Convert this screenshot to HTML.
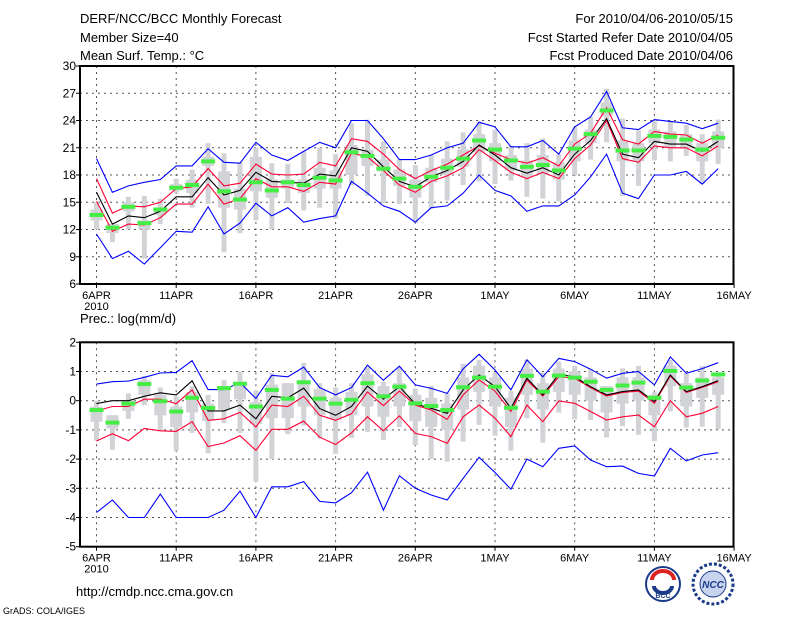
<!DOCTYPE html>
<html><head><meta charset="utf-8"><style>
html,body{margin:0;padding:0;background:#fff;}
svg{display:block;font-family:"Liberation Sans",sans-serif;}
</style></head><body>
<svg id="chart" width="800" height="618" viewBox="0 0 800 618" xmlns="http://www.w3.org/2000/svg">
<g font-size="13" fill="#000">
<text x="80" y="23">DERF/NCC/BCC Monthly Forecast</text>
<text x="80" y="42">Member Size=40</text>
<text x="80" y="60">Mean Surf. Temp.: °C</text>
</g>
<g font-size="13" fill="#000" text-anchor="end">
<text x="733" y="23">For 2010/04/06-2010/05/15</text>
<text x="733" y="42">Fcst Started Refer Date 2010/04/05</text>
<text x="733" y="60">Fcst Produced Date 2010/04/06</text>
</g>
<text x="80" y="323" font-size="13">Prec.: log(mm/d)</text>
<text x="76" y="596" font-size="13">http://cmdp.ncc.cma.gov.cn</text>
<text x="3" y="614" font-size="9">GrADS: COLA/IGES</text>
<g>
<circle cx="663" cy="584" r="17" fill="#fff" stroke="#1a3a8a" stroke-width="2"/>
<path d="M652 580 a11 9 0 0 1 22 0" fill="none" stroke="#d22" stroke-width="4"/>
<path d="M654 586 a9 7 0 0 0 18 0" fill="none" stroke="#1a3a8a" stroke-width="4"/>
<text x="663" y="598" font-size="7" text-anchor="middle" fill="#1a3a8a" font-weight="bold">BCC</text>
</g>
<g>
<circle cx="713" cy="584" r="20" fill="#fff" stroke="#1a3a8a" stroke-width="3" stroke-dasharray="3 2"/>
<circle cx="713" cy="584" r="13" fill="#c8d4ee" stroke="#1a3a8a" stroke-width="1"/>
<text x="713" y="588" font-size="10" text-anchor="middle" fill="#1a3a8a" font-weight="bold" font-style="italic">NCC</text>
</g>
<g id="top"></g>
<g id="bot"></g>
</svg>
<script>
const dayLabels = ["6APR","11APR","16APR","21APR","26APR","1MAY","6MAY","11MAY","16MAY"];
const dayLabelIdx = [0,5,10,15,20,25,30,35,40];
// Temperature panel data (40 days)
const tMax = [19.8,16.1,16.8,17.2,17.5,19.0,19.0,20.9,19.4,19.3,21.6,20.2,19.6,20.6,21.6,21.0,24.0,24.0,22.0,19.7,19.7,20.2,21.0,21.5,23.8,23.3,21.1,21.1,21.8,20.3,23.3,24.4,27.2,23.2,23.0,24.1,23.9,23.7,23.1,23.7];
const tMin = [11.5,8.8,9.6,8.2,10.0,11.8,11.7,14.5,11.5,12.7,14.9,13.5,14.4,12.8,13.2,13.5,17.3,16.0,14.6,14.0,12.8,14.4,14.6,16.0,18.0,16.3,15.7,14.0,14.6,14.6,15.8,17.8,20.3,16.0,15.4,18.0,18.0,18.4,17.0,18.7];
const tUp = [17.6,13.8,14.6,14.5,15.0,16.5,16.7,18.7,16.8,17.1,19.2,18.1,18.0,18.1,19.4,19.0,22.0,21.7,20.3,18.6,17.6,18.5,19.2,20.2,21.2,20.4,19.7,19.3,19.9,19.0,21.4,22.6,25.4,21.9,21.4,22.8,22.5,22.4,21.5,22.4];
const tMean = [16.1,12.6,13.5,13.3,14.0,15.6,15.6,17.7,15.8,16.3,18.3,17.3,17.2,17.1,18.1,17.9,21.0,20.6,18.9,17.3,16.7,17.8,18.5,19.5,21.3,20.2,18.8,18.2,18.8,18.0,20.3,21.8,24.2,20.3,19.9,21.7,21.4,21.4,20.6,21.7];
const tLow = [15.1,11.8,12.6,12.5,13.3,14.8,14.8,17.0,14.8,15.4,17.6,16.7,16.7,16.2,17.2,17.0,20.4,20.0,18.5,16.9,16.1,17.3,17.9,18.8,20.8,19.6,18.3,17.6,18.3,17.6,19.8,21.3,24.0,19.8,19.4,21.2,21.0,21.0,20.1,21.2];
const tObs = [13.6,12.2,14.5,12.7,14.2,16.6,16.9,19.5,16.2,15.3,17.2,16.3,17.2,16.9,17.7,17.4,20.5,20.1,18.7,17.6,16.7,17.8,18.8,19.8,21.8,20.8,19.6,18.9,19.1,18.5,20.9,22.5,25.1,20.7,20.7,22.3,22.2,21.9,20.8,22.1];
const tBarLo = [12.0,10.6,12.0,8.8,12.6,16.0,14.4,14.8,9.5,11.6,13.0,12.0,14.9,14.1,14.4,13.2,16.9,15.7,14.9,14.8,12.7,14.3,15.2,16.9,17.3,17.0,17.4,15.6,15.4,15.1,18.0,19.7,21.6,15.7,16.8,19.6,19.5,20.1,17.0,19.2];
const tBarHi = [15.0,12.6,15.6,15.7,15.4,17.6,18.6,21.5,20.4,19.4,21.0,19.3,19.2,20.6,21.0,20.3,23.7,24.1,21.7,19.7,19.1,20.2,21.7,22.7,23.9,23.0,21.2,21.5,22.0,20.3,23.3,24.4,27.5,24.2,22.9,24.0,23.9,23.5,22.5,24.1];
const tBoxLo = [13.0,11.6,14.0,12.0,13.6,16.3,16.0,19.0,14.4,14.2,16.2,15.5,16.5,16.0,16.5,16.5,18.0,19.0,18.4,16.8,15.5,17.2,18.0,18.9,20.5,19.5,18.5,17.8,18.0,17.5,19.5,21.5,24.5,19.5,19.5,21.5,21.0,21.0,19.5,21.0];
const tBoxHi = [14.2,12.6,15.0,13.0,14.4,17.0,17.5,20.0,18.4,16.5,20.0,17.5,17.5,17.5,18.8,18.5,21.3,20.8,19.7,18.6,17.5,18.8,19.8,20.8,22.5,21.5,20.2,19.6,20.2,19.4,21.8,23.0,26.0,21.8,21.5,23.0,22.8,22.5,21.5,22.8];
const tTicks = [6,9,12,15,18,21,24,27,30];
// Precipitation panel data
const pMax = [0.57,0.65,0.67,0.8,0.95,0.97,1.37,0.38,0.38,0.62,0.08,0.87,0.82,1.15,0.45,0.2,0.45,1.22,0.7,1.18,0.54,0.42,0.25,1.09,1.59,1.05,0.37,1.4,0.82,1.45,1.34,1.08,0.77,0.94,1.0,0.54,1.5,0.94,1.1,1.3];
const pMin = [-3.83,-3.4,-4.0,-4.0,-3.2,-4.0,-4.0,-4.0,-3.75,-3.1,-4.0,-2.95,-2.95,-2.77,-3.45,-3.5,-3.15,-2.45,-3.75,-2.57,-3.0,-3.23,-3.4,-2.66,-1.94,-2.46,-3.03,-2.0,-2.26,-1.63,-1.55,-2.03,-2.26,-2.24,-2.49,-2.58,-1.63,-2.06,-1.86,-1.78];
const pUp = [-0.35,-0.2,-0.2,0.05,0.05,-0.1,0.37,-0.67,-0.62,-0.4,-0.9,-0.15,-0.2,0.15,-0.5,-0.67,-0.45,0.3,-0.17,0.33,-0.15,-0.32,-0.64,0.2,0.71,0.33,-0.37,0.71,0.16,0.82,0.77,0.45,0.16,0.28,0.33,-0.09,0.85,0.28,0.46,0.65];
const pMean = [-0.1,0.0,0.0,0.15,0.27,0.2,0.68,-0.35,-0.35,-0.15,-0.62,0.15,0.1,0.43,-0.27,-0.5,-0.2,0.5,0.05,0.48,-0.11,-0.26,-0.43,0.37,0.88,0.48,-0.26,0.77,0.2,0.9,0.82,0.48,0.2,0.31,0.37,-0.03,0.88,0.31,0.48,0.69];
const pLow = [-1.38,-1.13,-1.37,-0.95,-1.03,-1.05,-0.72,-1.57,-1.45,-1.2,-1.7,-0.98,-0.98,-0.7,-1.25,-1.5,-1.1,-0.55,-1.03,-0.52,-1.12,-1.23,-1.46,-0.55,-0.15,-0.6,-1.23,-0.15,-0.72,-0.01,-0.09,-0.37,-0.66,-0.55,-0.49,-0.89,0.0,-0.55,-0.43,-0.2];
const pObs = [-0.32,-0.75,-0.1,0.57,-0.02,-0.37,0.1,-0.25,0.43,0.58,-0.2,0.37,0.07,0.63,0.07,-0.1,0.03,0.6,0.15,0.48,-0.09,-0.18,-0.32,0.46,0.79,0.48,-0.24,0.85,0.31,0.86,0.79,0.65,0.37,0.52,0.62,0.1,1.02,0.45,0.69,0.9];
const pBarLo = [-1.37,-1.68,-0.62,-0.15,-1.05,-1.72,-1.1,-1.8,-0.77,-1.1,-2.77,-2.0,-1.15,-0.85,-1.3,-1.82,-1.27,-1.07,-1.35,-0.9,-1.52,-2.0,-2.09,-1.4,-0.83,-1.2,-1.71,-0.6,-1.44,-0.41,-0.64,-0.66,-1.26,-0.87,-1.17,-1.38,-0.37,-0.92,-0.89,-0.98];
const pBarHi = [0.0,-0.5,0.25,0.85,0.45,0.15,0.5,0.2,0.7,1.0,0.35,0.95,0.6,1.3,0.6,0.45,0.6,1.15,0.65,1.15,0.42,0.5,0.25,1.26,1.4,0.96,0.33,1.4,0.96,1.34,1.19,1.08,0.48,1.11,1.19,0.31,1.4,0.94,1.19,0.96];
const pBoxLo = [-0.72,-0.95,-0.35,0.2,-0.5,-0.9,-0.4,-0.7,-0.3,0.05,-0.8,-0.6,-0.6,-0.2,-0.5,-0.65,-0.5,-0.2,-0.55,-0.2,-0.7,-0.9,-1.0,-0.3,0.3,-0.2,-0.9,0.2,-0.3,0.3,0.2,0.0,-0.4,-0.1,0.0,-0.5,0.5,-0.2,0.1,0.2];
const pBoxHi = [-0.2,-0.5,0.0,0.7,0.2,-0.2,0.3,-0.1,0.5,0.65,-0.05,0.55,0.6,0.7,0.4,0.1,0.3,0.9,0.5,0.6,0.2,0.1,-0.1,0.8,1.2,0.8,0.1,1.1,0.6,1.1,1.0,0.8,0.5,0.8,0.8,0.2,1.2,0.6,0.8,0.8];
const pTicks = [-5,-4,-3,-2,-1,0,1,2];

const NS="http://www.w3.org/2000/svg";
const X0=96.5, DX=15.94, LEFT=80, RIGHT=733.5;
function xDay(d){return X0+DX*d;}
function mk(tag,attrs,parent){const e=document.createElementNS(NS,tag);for(const k in attrs)e.setAttribute(k,attrs[k]);parent.appendChild(e);return e;}

function panel(g,top,bottom,vmin,vmax,ticks,S){
  const yv=v=>bottom-(v-vmin)/(vmax-vmin)*(bottom-top);
  // grid
  for(const t of ticks){ if(t===vmin||t===vmax)continue;
    const l=mk('line',{x1:LEFT,x2:RIGHT,y1:yv(t),y2:yv(t),stroke:'#555','stroke-width':1,'stroke-dasharray':'2 4'},g);
    
    
  }
  dayLabelIdx.forEach(d=>{ if(d===40)return;
    const l=mk('line',{x1:xDay(d),x2:xDay(d),y1:top,y2:bottom,stroke:'#555','stroke-width':1,'stroke-dasharray':'2 4'},g);
    
    
  });
  // bars
  for(let d=0;d<40;d++){
    const x=xDay(d);
    const b=mk('rect',{x:x-2.5,y:yv(S.barHi[d]),width:5,height:yv(S.barLo[d])-yv(S.barHi[d]),fill:'#d2d3d7'},g);
    
    
    const bx=mk('rect',{x:x-6,y:yv(S.boxHi[d]),width:12,height:Math.max(1,yv(S.boxLo[d])-yv(S.boxHi[d])),fill:'#d2d3d7'},g);
    
    
  }
  const line=(arr,col,name)=>{
    const p=mk('polyline',{points:arr.map((v,d)=>xDay(d).toFixed(1)+','+yv(v).toFixed(1)).join(' '),fill:'none',stroke:col,'stroke-width':1.1},g);
    
    
  };
  line(S.max,'#0000ff','max-line');line(S.min,'#0000ff','min-line');
  line(S.up,'#ff0033','upper-line');line(S.low,'#ff0033','lower-line');
  line(S.mean,'#000','ensemble-mean-line');
  for(let d=0;d<40;d++){
    const r=mk('rect',{x:xDay(d)-7,y:yv(S.obs[d])-2,width:14,height:4,fill:'#44ee44'},g);
    
    
  }
  // frame
  const f=mk('rect',{x:LEFT,y:top,width:RIGHT-LEFT,height:bottom-top,fill:'none',stroke:'#000','stroke-width':2},g);
  
  
  for(const t of ticks){
    const tk=mk('line',{x1:LEFT-4,x2:LEFT,y1:yv(t),y2:yv(t),stroke:'#000'},g);
    
    
    const tx=mk('text',{x:LEFT-4,y:yv(t)+4,'font-size':12,'text-anchor':'end'},g);
    tx.textContent=String(t);
    
    
  }
  dayLabelIdx.forEach((d,i)=>{
    const tk=mk('line',{x1:xDay(d),x2:xDay(d),y1:bottom,y2:bottom+4,stroke:'#000'},g);
    
    
    const tx=mk('text',{x:xDay(d),y:bottom+15,'font-size':11,'text-anchor':'middle'},g);
    tx.textContent=dayLabels[i];
    
    
  });
  const yr=mk('text',{x:xDay(0),y:bottom+26,'font-size':11,'text-anchor':'middle'},g);
  yr.textContent='2010';
  
  
}
panel(document.getElementById('top'),66,284,6,30,tTicks,{max:tMax,min:tMin,up:tUp,mean:tMean,low:tLow,obs:tObs,barLo:tBarLo,barHi:tBarHi,boxLo:tBoxLo,boxHi:tBoxHi});
panel(document.getElementById('bot'),342.3,546.7,-5,2,pTicks,{max:pMax,min:pMin,up:pUp,mean:pMean,low:pLow,obs:pObs,barLo:pBarLo,barHi:pBarHi,boxLo:pBoxLo,boxHi:pBoxHi});
</script>
</body></html>
